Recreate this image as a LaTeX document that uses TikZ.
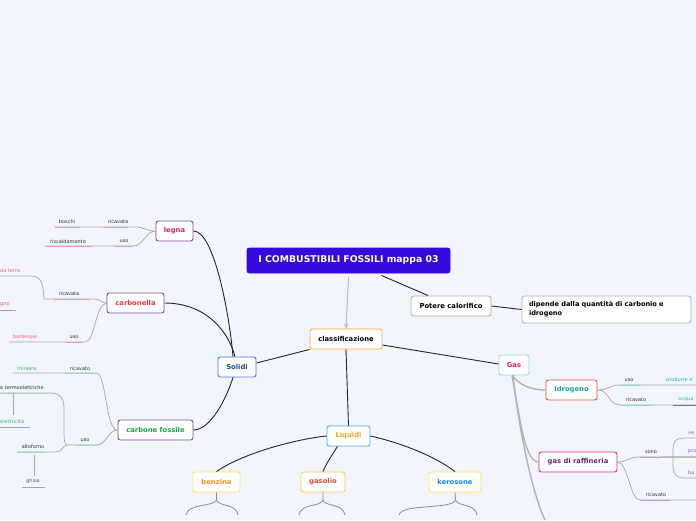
\documentclass[tikz,border=0pt]{standalone}
\usepackage{fontspec}
\setmainfont{DejaVu Sans}
\usetikzlibrary{arrows.meta,calc}
\definecolor{bgc}{HTML}{F3F5FD}
\definecolor{titlec}{HTML}{3508DD}
\definecolor{purpleb}{HTML}{7A4E96}
\definecolor{pinkt}{HTML}{E0245E}
\definecolor{redt}{HTML}{E8364F}
\definecolor{greent}{HTML}{1BA84A}
\definecolor{solidib}{HTML}{4A7FC1}
\definecolor{solidit}{HTML}{1F4E8C}
\definecolor{orangeb}{HTML}{FBB03B}
\definecolor{gasb}{HTML}{8FD3F5}
\definecolor{liqb}{HTML}{4AB0F0}
\definecolor{liqt}{HTML}{F5A623}
\definecolor{yelb}{HTML}{FFE45C}
\definecolor{benzt}{HTML}{F7931E}
\definecolor{gasob}{HTML}{FFC94A}
\definecolor{gasot}{HTML}{E84C3D}
\definecolor{kerot}{HTML}{1E88E5}
\definecolor{idrob}{HTML}{E8504A}
\definecolor{tealt}{HTML}{1BA3A8}
\definecolor{raffb}{HTML}{E0306E}
\definecolor{rafft}{HTML}{6A2C70}
\definecolor{txt}{HTML}{333333}
\definecolor{pinkl}{HTML}{F59AB0}
\definecolor{pinktxt}{HTML}{F06080}
\definecolor{greenl}{HTML}{9ED9B8}
\definecolor{greentxt}{HTML}{3CB371}
\definecolor{teall}{HTML}{8ED8E0}
\definecolor{tealtxt}{HTML}{2BB5C0}
\definecolor{purpl}{HTML}{B99AD6}
\definecolor{purptxt}{HTML}{9B59B6}
\definecolor{ghisat}{HTML}{2F6F6F}
\begin{document}
\begin{tikzpicture}[x=1pt,y=-1pt,
  box/.style={draw, rounded corners=2.5pt, fill=white, line width=0.9pt, inner sep=0pt, font=\fontsize{6.8}{8}\selectfont\bfseries},
  conn/.style={line width=0.9pt, draw=black!85},
  gconn/.style={line width=1.4pt, draw=black!30},
  lbl/.style={inner sep=0pt, font=\fontsize{5}{6}\selectfont, text=txt},
  sub/.style={line width=0.7pt, draw=black!35},
  pk/.style={line width=0.8pt, draw=pinkl},
  gr/.style={line width=0.8pt, draw=greenl},
  tl/.style={line width=0.8pt, draw=teall},
  pu/.style={line width=0.8pt, draw=purpl},
  brk/.style={line width=0.8pt, draw=black!45}]
\useasboundingbox[fill=bgc] (0,0) rectangle (696,520);

% main nodes
\node[box, draw=titlec, fill=titlec, text=white, minimum width=203, minimum height=25, font=\fontsize{9.3}{11}\selectfont\bfseries] (title) at (348.5,260.5) {I COMBUSTIBILI FOSSILI mappa 03};
\node[box, draw=black!30, minimum width=80, minimum height=20] (pot) at (451,306) {Potere calorifico};
\node[box, draw=black!30, minimum width=169, minimum height=27, text width=155, inner xsep=7pt, align=left, font=\fontsize{6.6}{9}\selectfont\bfseries] (dip) at (606.5,309.5) {dipende dalla quantità di carbonio e\\idrogeno};
\node[box, draw=orangeb, minimum width=72, minimum height=20] (class) at (346,339) {classificazione};
\node[box, draw=solidib, text=solidit, minimum width=38, minimum height=20] (solidi) at (237,367) {Solidi};
\node[box, draw=gasb, text=pinkt, minimum width=30, minimum height=20] (gas) at (514,365) {Gas};
\node[box, draw=liqb, text=liqt, minimum width=43, minimum height=20] (liq) at (348.5,436) {Liquidi};
\node[box, draw=yelb, text=benzt, minimum width=47, minimum height=20] (benz) at (216.5,482) {benzina};
\node[box, draw=gasob, text=gasot, minimum width=44, minimum height=20] (gaso) at (323,482) {gasolio};
\node[box, draw=yelb, text=kerot, minimum width=52, minimum height=20] (kero) at (455,482) {kerosone};
\node[box, draw=purpleb, text=pinkt, minimum width=37, minimum height=20] (legna) at (174.5,231) {legna};
\node[box, draw=purpleb, text=redt, minimum width=57, minimum height=20] (carb) at (135.5,303) {carbonella};
\node[box, draw=purpleb, text=greent, minimum width=75, minimum height=20] (cf) at (155.5,430) {carbone fossile};
\node[box, draw=idrob, text=tealt, minimum width=51, minimum height=20] (idro) at (571.5,390) {Idrogeno};
\node[box, draw=raffb, text=rafft, minimum width=78, minimum height=20] (raff) at (578,462) {gas di raffineria};

% main connectors
\draw[-{Stealth[length=5pt,width=4.5pt]}, draw=black!28, fill=black!28, line width=0.9pt] ($(title.south)+(0,4)$) -- (class.north);
\draw[conn] ($(title.south)+(33,2)$) -- ($(pot.north)+(-23,0)$);
\draw[conn] (pot.east) -- (dip.west);
\draw[conn] (class.south west) -- ($(solidi.east)+(0,-4)$);
\draw[conn] ($(class.east)+(0,6)$) -- ($(gas.west)+(0,-1)$);
\draw[conn] (class.south) -- (liq.north);
\draw[conn] (legna.east) .. controls (215,231) and (230,320) .. ($(solidi.north)+(-4,0)$);
\draw[conn] (carb.east) .. controls (205,303) and (228,330) .. ($(solidi.north)+(-2,0)$);
\draw[conn] (cf.east) .. controls (210,430) and (226,400) .. ($(solidi.south)+(-4,0)$);
\draw[conn] (liq.west) .. controls (290,440) and (240,455) .. (benz.north);
\draw[conn] ($(liq.south)+(-11,0)$) .. controls (332,455) and (326,464) .. (gaso.north);
\draw[conn] (liq.east) .. controls (410,445) and (440,460) .. (kero.north);

% gas connectors
\coordinate (gasdown) at (545,520);
\draw[gconn] ($(gas.south)+(-2,0)$) .. controls (520,385) and (530,390) .. (idro.west);
\draw[gconn] ($(gas.south)+(-2,0)$) .. controls (520,420) and (525,462) .. (raff.west);
\draw[gconn] ($(gas.south)+(-1,0)$) .. controls (520,440) and (535,500) .. (gasdown);

% brackets below liquids
\draw[brk] (benz.south) -- (216.5,500) .. controls (214,507) and (188,503) .. (186,515);
\draw[brk] (216.5,500) .. controls (219,507) and (236,503) .. (238,515);
\draw[brk] (gaso.south) -- (323,500) .. controls (321,507) and (301,503) .. (299,515);
\draw[brk] (323,500) .. controls (325,507) and (343,503) .. (345,515);
\draw[brk] (kero.south) -- (455.5,500) .. controls (452,510) and (402,503) .. (399,515);
\draw[brk] (455.5,500) .. controls (458,507) and (475,503) .. (477,515);

% legna details
\node[lbl] (lgric) at (118,222) {ricavata};
\node[lbl] (lgbos) at (67,221.5) {boschi};
\node[lbl] (lguso) at (124,241.5) {uso};
\node[lbl] (lgris) at (68,241.5) {riscaldamento};
\draw[sub] (legna.west) .. controls (146,231) and (145,227) .. (135,227) -- (55,227);
\draw[pk] (103,227) -- (128,227);
\draw[pk] (55,227) -- (80,227);
\draw[sub] (legna.west) .. controls (146,231) and (143,246) .. (133,246) -- (45,246);
\draw[pk] (115,246) -- (133,246);
\draw[pk] (45,246) -- (92,246);

% carbonella details
\node[lbl] (cbric) at (69,294) {ricavata};
\node[lbl, text=pinktxt, anchor=west] (cbter) at (0,271) {da terra};
\node[lbl, text=pinktxt, anchor=west] (cbgno) at (0,304.5) {gno};
\node[lbl] (cbuso) at (74,337.5) {uso};
\node[lbl, text=pinktxt] (cbbar) at (25,337.5) {barbeque};
\draw[sub] (carb.west) .. controls (100,303) and (101,299) .. (95,299) -- (44,299) .. controls (43,280) and (40,276) .. (30,276) -- (0,276);
\draw[pk] (54,299) -- (90,299);
\draw[sub] (0,310) -- (16,310);
\draw[sub] (carb.west) .. controls (95,305) and (95,342) .. (85,342) -- (9,342);
\draw[pk] (66,342) -- (83,342);

% carbone fossile details
\node[lbl] (cfric) at (80,368.5) {ricavato};
\node[lbl, text=greentxt] (cfmin) at (27,368.5) {miniera};
\node[lbl] (cfuso) at (85,440) {uso};
\node[lbl, anchor=west] (cfter) at (0,388) {e termoelettriche};
\node[lbl, text=greentxt, anchor=west] (cfele) at (0,421.5) {elettricità};
\node[lbl] (cfalt) at (33,447) {altoforno};
\node[lbl, text=ghisat] (cfghi) at (33,481.5) {ghisa};
\draw[sub] (cf.west) .. controls (105,430) and (107,373) .. (96,373) -- (13,373);
\draw[gr] (65,373) -- (96,373);
\draw[sub] (cf.west) .. controls (108,430) and (106,445) .. (97,445) -- (67,445);
\draw[gr] (77,445) -- (97,445);
\draw[sub] (67,445) .. controls (64,445) and (64,437) .. (64,428) -- (64,408) .. controls (64,396) and (58,393) .. (50,393) -- (0,393);
\draw[gr] (0,393) -- (48,393);
\draw[sub] (67,445) .. controls (63,445) and (63,452) .. (55,452) -- (17,452);
\draw[gr] (17,452) -- (45,452);
\draw[sub] (13,393) -- (13,415);
\draw[sub] (0,427) -- (30,427);
\draw[sub] (34,455) -- (34,476);
\draw[sub] (22,487) -- (45,487);

% idrogeno details
\node[lbl] (iduso) at (629,380) {uso};
\node[lbl, text=tealtxt, anchor=west] (idpro) at (666,380) {produrre e};
\node[lbl] (idric) at (636,400) {ricavato};
\node[lbl, text=tealtxt, anchor=west] (idacq) at (678,400) {acqua};
\draw[sub] (idro.east) .. controls (610,390) and (608,385) .. (620,385) -- (696,385);
\draw[tl] (620,385) -- (640,385);
\draw[sub] (idro.east) .. controls (610,390) and (608,405) .. (620,405) -- (696,405);
\draw[tl] (620,405) -- (650,405);
\draw[line width=0.8pt, draw=black!55] (673,405) -- (696,405);

% gas di raffineria details
\node[lbl] (rfsono) at (651,452) {sono};
\node[lbl] (rfric) at (656,495) {ricavato};
\node[lbl, text=purptxt, anchor=west] (rfve) at (688,433) {ve};
\node[lbl, text=purptxt, anchor=west] (rfpro) at (688,452) {pro};
\node[lbl, text=purptxt, anchor=west] (rfbu) at (688,472.5) {bu};
\draw[sub] (raff.east) .. controls (628,462) and (628,457) .. (640,457) -- (696,457);
\draw[pu] (640,457) -- (662,457);
\draw[line width=1.2pt, draw=black!25] (662,457) -- (696,457);
\draw[sub] (696,438) -- (685,438) .. controls (674,438) and (673,443) .. (673,450) -- (673,466) .. controls (673,474) and (676,478) .. (685,478) -- (696,478);
\draw[sub] (raff.east) .. controls (628,462) and (630,500) .. (640,500) -- (696,500);
\draw[pu] (640,500) -- (670,500);
\end{tikzpicture}
\end{document}
